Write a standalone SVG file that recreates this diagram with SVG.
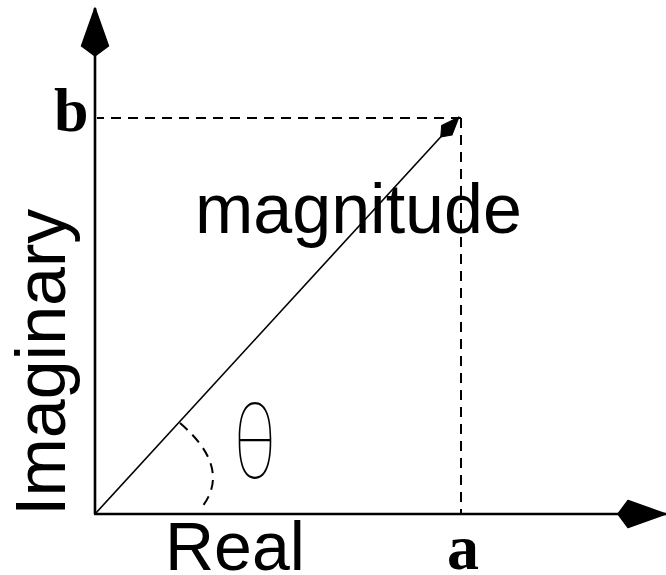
<svg xmlns="http://www.w3.org/2000/svg" width="666" height="575" viewBox="0 0 666 575">
<style>
.axis{stroke:#000;stroke-width:2.6;fill:none}
.dash{stroke:#000;stroke-width:2;fill:none;stroke-dasharray:10 7}
.vec{stroke:#000;stroke-width:1.6;fill:none}
.sans{font-family:"Liberation Sans",Arial,sans-serif;fill:#000}
.serif{font-family:"Liberation Serif","Times New Roman",serif;font-weight:bold;fill:#000}
</style>
<defs>
<marker id="big" viewBox="0 0 50 30" refX="49" refY="15" markerWidth="50" markerHeight="30" markerUnits="userSpaceOnUse" orient="auto">
<path d="M49,15 L11,1.5 L1,15 L11,28.5 Z" fill="#000" stroke="#000" stroke-width="1.5" stroke-linejoin="round"/>
</marker>
<marker id="small" viewBox="0 0 30 18" refX="29" refY="9" markerWidth="30" markerHeight="18" markerUnits="userSpaceOnUse" orient="auto">
<path d="M29,9 L11,2 L2,9 L11,16 Z" fill="#000" stroke="#000" stroke-width="1" stroke-linejoin="round"/>
</marker>
</defs>
<g id="connectors">
<path class="dash" d="M461,118 H97"/>
<path class="dash" d="M461,118 V514"/>
<path class="dash" d="M180,423 Q232,468 202,507"/>
<line class="vec" x1="95" y1="514" x2="459" y2="117" marker-end="url(#small)"/>
<line class="axis" x1="95" y1="514" x2="95" y2="8" marker-end="url(#big)"/>
<line class="axis" x1="94" y1="514" x2="666" y2="514" marker-end="url(#big)"/>
</g>
<g id="label-b"><text class="serif" x="54" y="131" font-size="62">b</text></g>
<g id="label-a"><text class="serif" x="447" y="569" font-size="64">a</text></g>
<g id="label-real"><text class="sans" x="165" y="570" font-size="68">Real</text></g>
<g id="label-imaginary"><text class="sans" font-size="70" transform="translate(65,516) rotate(-90)">Imaginary</text></g>
<g id="label-magnitude"><text class="sans" x="195" y="233" font-size="70">magnitude</text></g>
<g id="label-theta"><text font-size="103" font-weight="100" text-anchor="middle" transform="translate(255,478) scale(0.7,1)" style="font-family:Inter,'Noto Sans',sans-serif" fill="#000">θ</text></g>
</svg>
